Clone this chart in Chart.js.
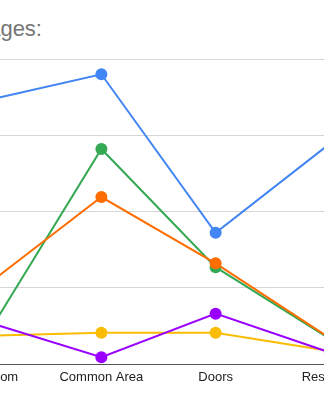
<!DOCTYPE html>
<html>
<head>
<meta charset="utf-8">
<script src="https://cdn.jsdelivr.net/npm/chart.js@4/dist/chart.umd.min.js"></script>
<style>
  html, body { margin: 0; padding: 0; background: #fff; }
  body { width: 324px; height: 400px; overflow: hidden; position: relative; font-family: Arial, "Liberation Sans", sans-serif; }
  #title { position: absolute; right: 282px; top: 18px; white-space: nowrap; font-size: 22px; line-height: 22px; color: #757575; }
  #wrap { position: absolute; left: -76px; top: 0; width: 469px; height: 400px; }
</style>
</head>
<body>
<div id="title">Damages:</div>
<div id="wrap"><canvas id="lineChart"></canvas></div>
<script>
// categorias e séries
const categories = ['Classroom', 'Common Area', 'Doors', 'Restroom'];
const blueSeries = [34.6, 38.0, 17.2, 28.9];
const orangeSeries = [10.4, 21.9, 13.2, 3.4];
const greenSeries = [3.8, 28.2, 12.7, 3.3];
const purpleSeries = [5.5, 0.9, 6.6, 1.5];
const yellowSeries = [3.7, 4.1, 4.1, 1.7];
const yTicks = [0, 10, 20, 30, 40];

function serie(label, data, color) {
    return {
        label: label,
        data: data,
        borderColor: color,
        backgroundColor: color,
        borderWidth: 2,
        pointRadius: 6,
        pointBorderWidth: 0,
        tension: 0
    };
}

new Chart(document.getElementById('lineChart'), {
    type: 'line',
    data: {
        labels: categories,
        datasets: [
            serie('Series 1', blueSeries, '#4285F4'),
            serie('Series 2', orangeSeries, '#FF6D01'),
            serie('Series 3', greenSeries, '#34A853'),
            serie('Series 4', purpleSeries, '#9900FF'),
            serie('Series 5', yellowSeries, '#FBBC04')
        ]
    },
    options: {
        responsive: true,
        maintainAspectRatio: false,
        animation: false,
        layout: { padding: { top: 59, left: 0, right: 0, bottom: 0 } },
        plugins: {
            legend: { display: false },
            tooltip: { enabled: false }
        },
        scales: {
            x: {
                offset: true,
                grid: { display: false, drawTicks: false },
                border: { display: true, color: '#555', width: 1 },
                ticks: {
                    padding: 6,
                    color: '#222',
                    font: { family: 'Arial, "Liberation Sans", sans-serif', size: 13 },
                    maxRotation: 0,
                    autoSkip: false
                },
                afterFit: s => { s.height = 36; }
            },
            y: {
                min: yTicks[0],
                max: yTicks[yTicks.length - 1],
                afterBuildTicks: s => { s.ticks = yTicks.map(v => ({ value: v })); },
                ticks: { display: false },
                border: { display: false },
                grid: {
                    drawTicks: false,
                    color: ctx => ctx.tick && ctx.tick.value === 0 ? '#555' : '#d6d6d6'
                },
                afterFit: s => { s.width = 0; }
            }
        }
    }
});
</script>
</body>
</html>
